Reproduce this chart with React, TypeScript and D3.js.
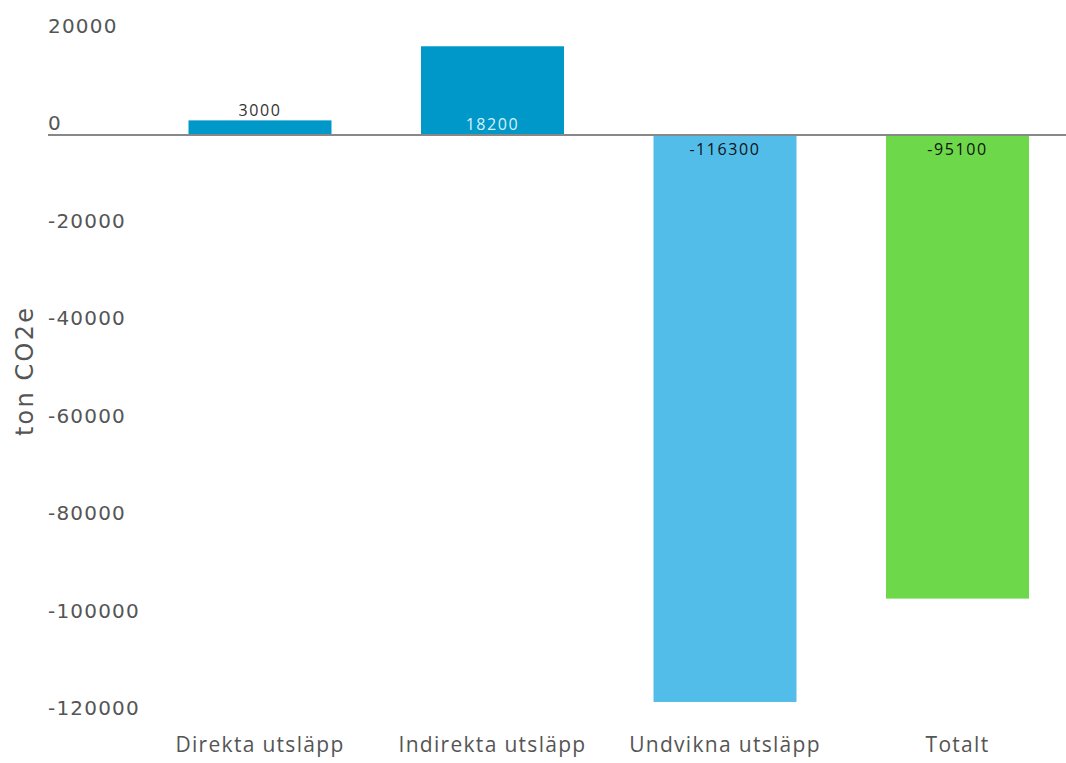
import React from "react";
import * as d3 from "d3";

const categories = ["Direkta utsläpp", "Indirekta utsläpp", "Undvikna utsläpp", "Totalt"];
const values = [3000, 18200, -116300, -95100];
const barColors = ["#0098c8", "#0098c8", "#52bde9", "#6cd84a"];
const yTicks = [20000, 0, -20000, -40000, -60000, -80000, -100000, -120000];

const W = 1066;
const H = 763;

export default function App() {
  const y = d3.scaleLinear().domain([20000, -120000]).range([37.5, 720]);
  const x = d3
    .scaleBand<string>()
    .domain(categories)
    .range([143.75, 1073.75])
    .paddingInner(0.385)
    .paddingOuter(0.1925);
  const y0 = y(0);

  return (
    <svg
      width={W}
      height={H}
      style={{ position: "absolute", left: 0, top: 0, background: "#fff" }}
    >
      {yTicks.map((t) => (
        <text
          key={t}
          x={48}
          y={y(t) - 5}
          fontFamily="DejaVu Sans, sans-serif"
          fontSize={20}
          letterSpacing={1.2}
          fill="#555"
        >
          {t}
        </text>
      ))}
      <text
        transform={`translate(33,371) rotate(-90)`}
        textAnchor="middle"
        fontFamily="DejaVu Sans, sans-serif"
        fontSize={24}
        letterSpacing={2.2}
        fill="#555"
      >
        ton CO2e
      </text>
      {categories.map((c, i) => {
        const v = values[i];
        const top = Math.min(y(v), y0);
        const h = Math.abs(y(v) - y0);
        const cx = (x(c) as number) + x.bandwidth() / 2;
        let ly: number;
        let lc: string;
        if (i === 0) {
          ly = y(v) - 4;
          lc = "#333";
        } else if (v > 0) {
          ly = y0 - 5;
          lc = "#d8f0f8";
        } else {
          ly = y0 + 20;
          lc = "#111";
        }
        return (
          <g key={c}>
            <rect x={x(c)} y={top} width={x.bandwidth()} height={h} fill={barColors[i]} />
            <text
              x={cx}
              y={ly}
              textAnchor="middle"
              fontFamily="Open Sans, sans-serif"
              fontSize={16}
              letterSpacing={1.6}
              fill={lc}
            >
              {v}
            </text>
            <text
              x={cx}
              y={752}
              textAnchor="middle"
              fontFamily="Open Sans, sans-serif"
              fontSize={21}
              letterSpacing={1.3}
              fill="#555"
            >
              {c}
            </text>
          </g>
        );
      })}
      <line x1={48} x2={W} y1={y0} y2={y0} stroke="#888" strokeWidth={1.8} />
    </svg>
  );
}
